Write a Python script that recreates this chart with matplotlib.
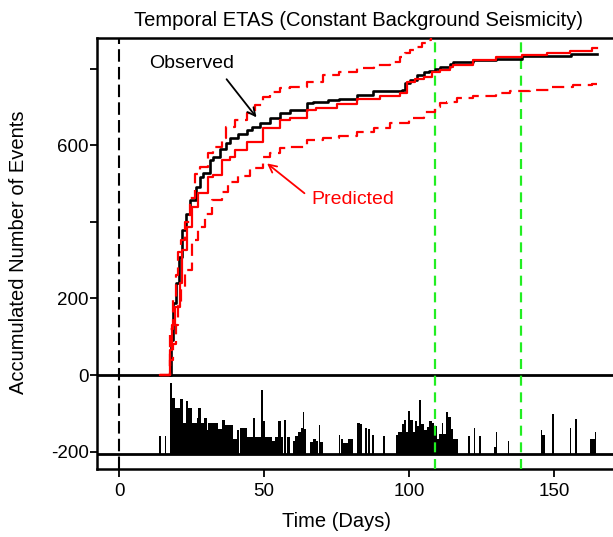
import matplotlib
matplotlib.use('Agg')
import matplotlib.pyplot as plt

plt.rcParams['font.family'] = ['Liberation Sans', 'DejaVu Sans']

# ---------------- data ----------------
title = "Temporal ETAS (Constant Background Seismicity)"
xlabel = "Time (Days)"
ylabel = "Accumulated Number of Events"

x_ticks = [0, 50, 100, 150]
y_ticks = [800, 600, 400, 200, 0, -200]
y_tick_labels = ["", "600", "", "200", "0", "-200"]

# observed cumulative count (step, post)
obs_t = [17.6, 17.9, 18.7, 19.7, 20.6, 21.6, 23.0, 24.5, 26.5, 27.9, 29.0, 31.4,
         32.5, 34.8, 37.0, 38.3, 41.0, 44.0, 46.0, 48.6, 52.0, 55.5, 59.0, 64.7,
         67.0, 72.0, 76.0, 82.0, 87.7, 97.5, 98.6, 100.5, 102.7, 105.0, 107.0,
         109.0, 110.7, 114.0, 115.0, 122.0, 130.0, 138.8, 156.0, 164.7]
obs_n = [0, 91, 188, 240, 308, 378, 420, 457, 491, 518, 527, 561,
         570, 590, 605, 618, 630, 640, 648, 657, 670, 683, 692, 709,
         714, 718, 720, 730, 742, 744, 762, 770, 783, 790, 795,
         800, 805, 812, 818, 822, 824, 833, 838, 838]

# predicted cumulative count
pred_t = [14.0, 17.6, 18.3, 19.3, 21.0, 21.6, 23.3, 25.0, 27.2, 30.7, 32.5, 35.4,
          38.3, 40.0, 44.0, 49.8, 55.5, 59.0, 64.7, 68.0, 75.0, 82.0, 90.0, 97.0,
          99.2, 102.0, 105.0, 108.0, 110.7, 114.0, 115.3, 122.0, 130.0, 139.0,
          147.5, 155.5, 163.0, 164.8]
pred_n = [0, 65, 130, 178, 240, 326, 387, 439, 475, 518, 522, 561,
          570, 587, 609, 644, 666, 670, 692, 696, 708, 720, 728, 735,
          766, 772, 779, 790, 796, 805, 809, 822, 831, 836,
          841, 846, 853, 853]

# upper confidence bound
up_t = [14.0, 17.6, 18.5, 19.5, 20.5, 21.5, 22.8, 24.5, 26.2, 27.9, 30.8, 32.5,
        35.4, 37.0, 40.0, 44.0, 47.0, 49.8, 52.0, 55.5, 59.0, 64.7, 70.4, 76.0,
        82.0, 88.0, 93.4, 97.0, 98.6, 100.5, 102.7, 104.5, 106.0, 107.5, 109.0]
up_n = [0, 120, 200, 260, 320, 352, 400, 461, 526, 544, 580, 596,
        620, 648, 665, 683, 705, 727, 740, 749, 753, 766, 783, 792,
        801, 810, 818, 830, 840, 848, 857, 866, 875, 885, 895]

# lower confidence bound
lo_t = [14.0, 17.6, 18.6, 19.5, 20.5, 21.5, 22.8, 25.0, 27.3, 29.5, 32.0, 35.4,
        37.7, 41.0, 45.0, 49.8, 52.0, 55.5, 59.0, 64.7, 70.4, 76.0, 82.0, 88.0,
        93.4, 100.0, 105.0, 109.0, 110.7, 113.0, 116.4, 122.0, 130.0, 134.8,
        141.7, 148.6, 156.7, 163.0, 164.8]
lo_n = [0, 40, 80, 130, 180, 230, 274, 352, 387, 420, 457, 479,
        505, 520, 540, 570, 580, 592, 596, 614, 618, 625, 635, 645,
        657, 672, 687, 700, 709, 714, 722, 728, 737, 742,
        744, 753, 757, 761, 761]

# event bars in the lower panel: start day, end day, height (units above base)
bar_start = [13.9, 15.9, 17.6, 18.2, 19.3, 21.0, 21.9, 23.0, 23.9, 25.1, 26.8, 27.4,
             28.2, 29.3, 30.2, 30.8, 34.3, 35.4, 36.6, 39.4, 40.6, 41.7, 44.0, 46.3,
             46.9, 48.9, 49.5, 50.3, 52.6, 53.8, 54.9, 55.7, 57.0, 57.8, 59.9, 60.7,
             61.8, 62.6, 63.3, 63.8, 65.9, 67.0, 67.9, 69.0, 69.4,
             75.8, 76.4, 77.4, 79.1, 81.9, 83.1, 84.8, 85.7, 87.1, 90.9,
             95.5, 96.3, 97.5, 98.3, 99.0, 99.8, 100.4, 101.3, 102.0, 102.6, 103.6,
             104.1, 105.2, 106.1, 106.9, 107.8, 108.6, 109.5, 110.4, 111.3, 111.8,
             112.6, 113.6, 114.4, 115.3,
             120.5, 122.4, 124.3, 129.3, 130.0, 134.0, 145.4, 146.0, 149.4,
             155.5, 157.4, 162.4, 164.0]
bar_end = [14.35, 16.35, 18.2, 19.3, 21.0, 21.9, 23.0, 23.9, 25.1, 26.8, 27.4, 28.2,
           29.3, 30.2, 30.8, 34.3, 35.4, 36.6, 39.4, 40.6, 41.4, 44.0, 46.3, 46.9,
           48.9, 49.5, 50.3, 52.6, 53.8, 54.9, 55.7, 56.6, 57.5, 58.9, 60.7, 61.8,
           62.6, 63.3, 63.8, 64.5, 67.0, 67.9, 68.7, 69.4, 70.2,
           76.3, 77.4, 79.1, 80.8, 83.1, 83.7, 85.6, 86.5, 87.9, 91.7,
           96.3, 97.5, 98.3, 99.0, 99.8, 100.4, 101.3, 102.0, 102.6, 103.6, 104.1,
           105.2, 106.1, 106.9, 107.8, 108.6, 109.5, 110.4, 111.3, 111.8, 112.6,
           113.6, 114.4, 115.3, 117.0,
           120.95, 122.85, 124.75, 130.0, 130.5, 134.45, 146.0, 146.8, 149.85,
           155.95, 157.85, 164.0, 164.6]
bar_h = [47, 47, 186, 148, 121, 145, 81, 139, 120, 81, 96, 120,
         82, 96, 63, 82, 67, 90, 77, 40, 64, 68, 45, 96,
         45, 168, 87, 45, 35, 45, 87, 45, 89, 45, 36, 47,
         58, 69, 111, 67, 32, 41, 35, 77, 32,
         51, 41, 30, 41, 83, 80, 69, 67, 50, 47,
         50, 58, 80, 90, 58, 112, 90, 58, 86, 75, 143,
         80, 63, 71, 87, 82, 73, 41, 54, 82, 54,
         111, 97, 67, 41,
         47, 69, 47, 20, 58, 36, 64, 51, 106,
         69, 91, 41, 58]

event_base = -207
start_line = 0
green_lines = [109.0, 138.7]

# ---------------- figure ----------------
fig = plt.figure(figsize=(6.13, 5.37), dpi=100)

ax = fig.add_axes([97/613, 1-469/537, (620-97)/613, (469-38)/537])
ax.set_xlim(-7.59, 172.76)
ax.set_ylim(-245.4, 879.9)

# lower panel bars
ax.bar(bar_start, bar_h, width=[e - s for s, e in zip(bar_start, bar_end)],
       bottom=event_base, align='edge', color='black', linewidth=0, zorder=2)

# horizontal separators
ax.axhline(0, color='black', lw=2.0, zorder=3)
ax.axhline(event_base, color='black', lw=2.0, zorder=3)

# vertical lines
ax.axvline(start_line, color='black', lw=1.5, linestyle=(0, (6, 2.5)), zorder=4)
for g in green_lines:
    ax.axvline(g, color='#22ee22', lw=1.6, linestyle=(0, (4.5, 3)), zorder=4)

# curves
ax.step(obs_t, obs_n, where='post', color='black', lw=1.9, zorder=5)
ax.step(pred_t, pred_n, where='post', color='red', lw=1.6, zorder=6)
ax.step(up_t, up_n, where='post', color='red', lw=1.6,
        linestyle=(0, (5.5, 3)), zorder=6)
ax.step(lo_t, lo_n, where='post', color='red', lw=1.6,
        linestyle=(0, (5.5, 3)), zorder=6)

# annotations
ax.annotate("", xy=(48.0, 667), xytext=(36.5, 778),
            arrowprops=dict(arrowstyle='->', color='black', lw=1.3,
                            mutation_scale=14), zorder=7)
ax.text(10.4, 813, "Observed", color='black', fontsize=14, ha='left', va='center')
ax.annotate("", xy=(50.3, 557), xytext=(64.7, 470),
            arrowprops=dict(arrowstyle='->', color='red', lw=1.3,
                            mutation_scale=14), zorder=7)
ax.text(66.5, 457, "Predicted", color='red', fontsize=14, ha='left', va='center')

# axes styling
for s in ['left', 'top', 'bottom']:
    ax.spines[s].set_linewidth(1.8)
ax.spines['right'].set_visible(False)
ax.set_xticks(x_ticks)
ax.set_xticklabels([str(v) for v in x_ticks])
ax.set_yticks(y_ticks)
ax.set_yticklabels(y_tick_labels)
ax.tick_params(axis='both', direction='out', length=5, width=1.3,
               labelsize=13.5, colors='black')
ax.tick_params(axis='x', pad=4, length=6)
ax.tick_params(axis='y', pad=1)

ax.set_title(title, fontsize=14.5, pad=9)
ax.set_xlabel(xlabel, fontsize=14.5)
ax.set_ylabel(ylabel, fontsize=14.5)
ax.xaxis.set_label_coords((336-97)/(620-97), -(512-469)/(469-38))
ax.yaxis.set_label_coords(-(97-28)/(620-97), (469-252)/(469-38))

fig.savefig("out.png", dpi=100)
